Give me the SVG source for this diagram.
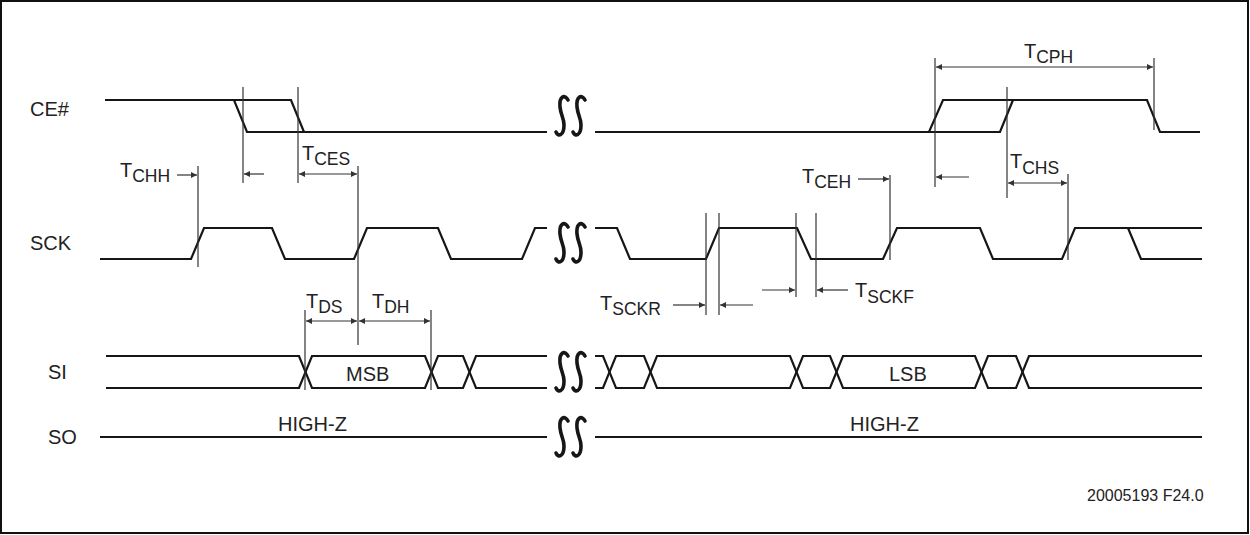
<svg xmlns="http://www.w3.org/2000/svg" width="1250" height="535" viewBox="0 0 1250 535">
<defs>
<style>
.w{fill:none;stroke:#161616;stroke-width:2.2;stroke-linejoin:miter;stroke-linecap:butt}
.v{fill:none;stroke:#333;stroke-width:1.2}
.a{fill:none;stroke:#333;stroke-width:1.2;marker-end:url(#ah)}
.d{fill:none;stroke:#333;stroke-width:1.2;marker-start:url(#ah);marker-end:url(#ah)}
.brk{fill:none;stroke:#161616;stroke-width:3.6;stroke-linecap:round}
text{font-family:"Liberation Sans",Arial,Helvetica,sans-serif;fill:#222}
.lbl{font-size:20px}
.t{font-size:20px}
.sub{font-size:17.5px}
.fn{font-size:16px}
</style>
<marker id="ah" viewBox="0 0 10 10" refX="10" refY="5" markerWidth="9" markerHeight="6" markerUnits="userSpaceOnUse" orient="auto-start-reverse">
<path d="M0,0 L10,5 L0,10 z" fill="#333"/>
</marker>
<path id="s" class="brk" d="M6,-16 C3,-22 -3,-20 -2,-9 C-1,0 2,2 2,9 C2,20 -4,21 -6,16"/>
</defs>
<rect x="1" y="1" width="1247" height="532" fill="#fff" stroke="#111" stroke-width="2"/>

<g id="labels">
<text class="lbl" x="30" y="116">CE#</text>
<text class="lbl" x="30" y="250">SCK</text>
<text class="lbl" x="48" y="379">SI</text>
<text class="lbl" x="48" y="444">SO</text>
<text class="fn" x="1087" y="501">20005193 F24.0</text>
</g>

<g id="sig-ce">
<polyline class="w" points="105,100 234,100 247,132 547,132"/>
<polyline class="w" points="234,100 291,100 304,132"/>
<polyline class="w" points="595,132 929,132 943,100 1147,100 1160,132 1200,132"/>
<polyline class="w" points="929,132 1000,132 1013,100"/>
</g>

<g id="sig-sck">
<polyline class="w" points="100,259 191,259 204,228 272,228 285,259 354,259 367,228 438,228 451,259 522,259 535,228 547,228"/>
<polyline class="w" points="595,228 617,228 630,259 706,259 719,228 797,228 811,259 883,259 897,228 980,228 993,259 1062,259 1075,228 1202,228"/>
<polyline class="w" points="1128,228 1141,259 1202,259"/>
</g>

<g id="sig-si">
<polyline class="w" points="106,356 299,356 312,388 425,388 438,356 463,356 476,388 547,388"/>
<polyline class="w" points="106,388 299,388 312,356 425,356 438,388 463,388 476,356 547,356"/>
<polyline class="w" points="595,356 603,356 616,388 644,388 657,356 790,356 803,388 830,388 843,356 975,356 988,388 1016,388 1029,356 1202,356"/>
<polyline class="w" points="595,388 603,388 616,356 644,356 657,388 790,388 803,356 830,356 843,388 975,388 988,356 1016,356 1029,388 1202,388"/>
<text class="lbl" x="346" y="381">MSB</text>
<text class="lbl" x="889" y="381">LSB</text>
</g>

<g id="sig-so">
<line class="w" x1="100" y1="437" x2="547" y2="437"/>
<line class="w" x1="595" y1="437" x2="1202" y2="437"/>
<text class="lbl" x="278" y="431">HIGH-Z</text>
<text class="lbl" x="850" y="431">HIGH-Z</text>
</g>

<g id="breaks">
<use href="#s" x="562" y="116"/><use href="#s" x="579" y="116"/>
<use href="#s" x="562" y="243"/><use href="#s" x="579" y="243"/>
<use href="#s" x="562" y="372"/><use href="#s" x="579" y="372"/>
<use href="#s" x="562" y="437"/><use href="#s" x="579" y="437"/>
</g>

<g id="connectors">
<line class="v" x1="243" y1="87" x2="243" y2="183"/>
<line class="v" x1="298" y1="87" x2="298" y2="183"/>
<line class="a" x1="264" y1="174" x2="244" y2="174"/>
<line class="d" x1="299" y1="174" x2="357" y2="174"/>
<line class="v" x1="358" y1="166" x2="358" y2="345"/>
<line class="v" x1="198" y1="166" x2="198" y2="267"/>
<line class="a" x1="177" y1="175" x2="197" y2="175"/>
<line class="v" x1="305" y1="310" x2="305" y2="390"/>
<line class="v" x1="431" y1="310" x2="431" y2="390"/>
<line class="d" x1="306" y1="321" x2="357" y2="321"/>
<line class="d" x1="359" y1="321" x2="430" y2="321"/>
<line class="v" x1="706" y1="213" x2="706" y2="315"/>
<line class="v" x1="719" y1="213" x2="719" y2="315"/>
<line class="a" x1="673" y1="305" x2="705" y2="305"/>
<line class="a" x1="753" y1="305" x2="720" y2="305"/>
<line class="v" x1="796" y1="213" x2="796" y2="297"/>
<line class="v" x1="816" y1="213" x2="816" y2="297"/>
<line class="a" x1="762" y1="290" x2="795" y2="290"/>
<line class="a" x1="848" y1="290" x2="817" y2="290"/>
<line class="v" x1="890" y1="175" x2="890" y2="260"/>
<line class="a" x1="858" y1="179" x2="889" y2="179"/>
<line class="v" x1="935" y1="58" x2="935" y2="187"/>
<line class="v" x1="1154" y1="58" x2="1154" y2="130"/>
<line class="d" x1="936" y1="67" x2="1153" y2="67"/>
<line class="a" x1="969" y1="177" x2="936" y2="177"/>
<line class="v" x1="1007" y1="87" x2="1007" y2="198"/>
<line class="d" x1="1008" y1="183" x2="1067" y2="183"/>
<line class="v" x1="1068" y1="174" x2="1068" y2="260"/>
</g>

<g id="timing-labels">
<text class="t" x="120" y="177">T<tspan class="sub" dy="5">CHH</tspan></text>
<text class="t" x="302" y="160">T<tspan class="sub" dy="5">CES</tspan></text>
<text class="t" x="306" y="308">T<tspan class="sub" dy="5">DS</tspan></text>
<text class="t" x="372" y="308">T<tspan class="sub" dy="5">DH</tspan></text>
<text class="t" x="600" y="310">T<tspan class="sub" dy="5">SCKR</tspan></text>
<text class="t" x="855" y="297">T<tspan class="sub" dy="6">SCKF</tspan></text>
<text class="t" x="802" y="183">T<tspan class="sub" dy="5">CEH</tspan></text>
<text class="t" x="1024" y="58">T<tspan class="sub" dy="5">CPH</tspan></text>
<text class="t" x="1010" y="168">T<tspan class="sub" dy="6">CHS</tspan></text>
</g>
</svg>
